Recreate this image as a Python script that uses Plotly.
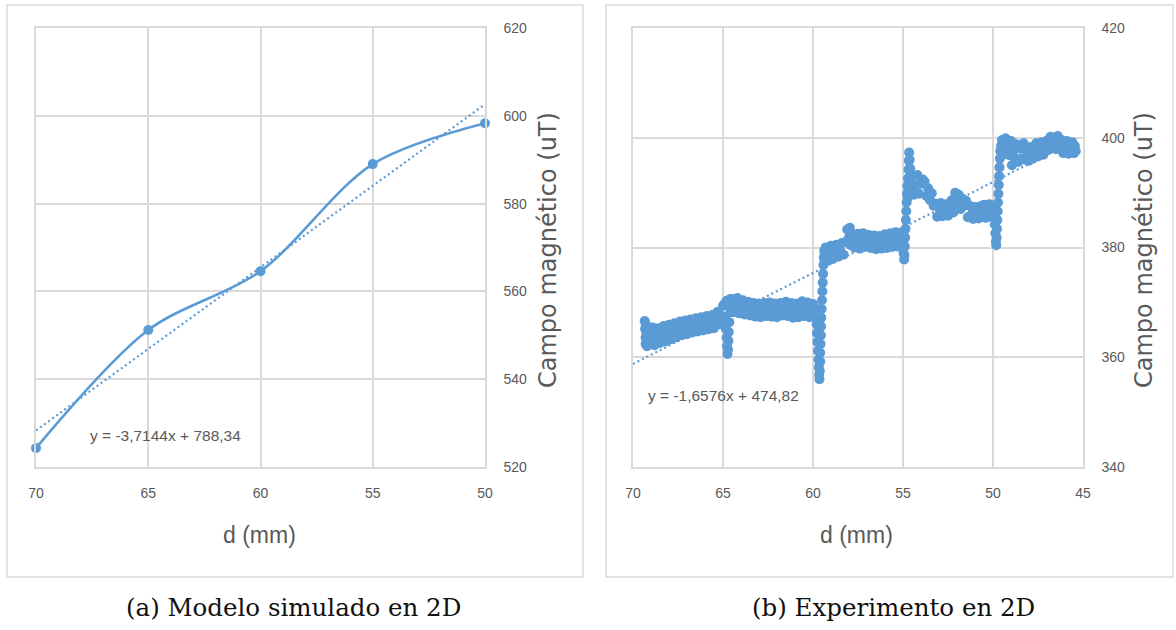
import plotly.graph_objects as go

# ---------------- data ----------------
# (a) simulated 2D model
sim_d = [70, 65, 60, 55, 50]
sim_b = [524.3, 551.2, 564.6, 589.0, 598.3]
sim_fit = (-3.7144, 788.34)          # slope, intercept of the linear fit
sim_fit_span = [70, 50]

# (b) 2D experiment (distance in mm, field in uT)
exp_d = [
    # start of the sweep
    69.35, 69.33, 69.3, 69.3, 69.28, 69.25, 69.22, 69.2, 69.15, 69.1, 69.05, 69.0,
    # first plateau
    68.9, 68.8, 68.7, 68.6, 68.5, 68.4, 68.3, 68.2, 68.1, 68.0, 67.9, 67.8, 67.7,
    67.6, 67.5, 67.4, 67.3, 67.2, 67.1, 67.0, 66.9, 66.8, 66.7, 66.6, 66.5, 66.4,
    66.3, 66.2, 66.1, 66.0, 65.9, 65.8, 65.7, 65.6, 65.5, 65.4, 65.3, 65.2, 65.1, 65.0,
    # dip near 65 mm
    64.9, 64.85, 64.8, 64.78, 64.75, 64.72, 64.7, 64.68, 64.65, 64.6,
    64.9, 64.8, 64.7, 64.6,
    # second plateau
    64.5, 64.4, 64.3, 64.2, 64.1, 64.0, 63.9, 63.8, 63.7, 63.6, 63.5, 63.4, 63.3,
    63.2, 63.1, 63.0, 62.9, 62.8, 62.7, 62.6, 62.5, 62.4, 62.3, 62.2, 62.1, 62.0,
    61.9, 61.8, 61.7, 61.6, 61.5, 61.4, 61.3, 61.2, 61.1, 61.0, 60.9, 60.8, 60.7,
    60.6, 60.5, 60.4, 60.3, 60.2, 60.1, 60.0, 59.9, 59.85,
    # dip and step near 60 mm
    59.8, 59.78, 59.75, 59.72, 59.7, 59.68, 59.66, 59.64, 59.62, 59.6, 59.6, 59.58,
    59.56, 59.55, 59.54, 59.52, 59.5, 59.48, 59.46, 59.44, 59.42, 59.4, 59.38, 59.35,
    # third plateau
    59.3, 59.2, 59.1, 59.0, 58.9, 58.8, 58.7, 58.6, 58.5, 58.4, 58.3,
    58.2, 58.1, 58.0, 57.95, 57.9, 57.8,
    57.7, 57.6, 57.5, 57.4, 57.3, 57.2, 57.1, 57.0, 56.9, 56.8, 56.7, 56.6, 56.5,
    56.4, 56.3, 56.2, 56.1, 56.0, 55.9, 55.8, 55.7, 55.6, 55.5, 55.4, 55.3, 55.2, 55.1,
    # dip, step and spike near 55 mm
    55.0, 54.97, 54.94, 54.92, 54.9,
    54.88, 54.86, 54.84, 54.82, 54.8, 54.78, 54.76, 54.74, 54.72, 54.7, 54.68,
    54.66, 54.63, 54.6, 54.58, 54.55,
    # fourth plateau
    54.5, 54.4, 54.3, 54.2, 54.1, 54.0, 53.9,
    53.8, 53.7, 53.6, 53.5, 53.4, 53.3,
    53.2, 53.1, 53.0, 52.9, 52.8, 52.7, 52.6, 52.5, 52.4,
    52.3, 52.2, 52.1, 52.0, 51.9, 51.8, 51.7, 51.6, 51.5,
    51.4, 51.3, 51.2, 51.1, 51.0, 50.9, 50.8, 50.7, 50.6, 50.5, 50.4, 50.3, 50.2,
    50.1, 50.0, 49.95,
    # dip and step near 50 mm
    49.9, 49.87, 49.84, 49.82, 49.8, 49.78,
    49.76, 49.74, 49.72, 49.7, 49.68, 49.66, 49.64, 49.62, 49.6, 49.55,
    # last plateau
    49.5, 49.4, 49.3, 49.2, 49.1, 49.0, 48.95, 48.9, 48.8, 48.7,
    48.6, 48.5, 48.4, 48.3, 48.2, 48.1, 48.0,
    47.9, 47.8, 47.7, 47.6, 47.5, 47.4, 47.3, 47.2, 47.1, 47.0,
    46.9, 46.8, 46.7, 46.6, 46.5, 46.4, 46.3,
    46.2, 46.1, 46.0, 45.9, 45.8, 45.7, 45.6, 45.5, 45.45, 45.4,
]
exp_b = [
    366.6, 365.2, 363.6, 362.4, 366.0, 364.4, 362.0, 363.2, 364.8, 362.6, 363.9, 365.1,
    365.4, 362.2, 363.8, 365.3, 362.6, 364.1, 365.7, 362.9, 364.4, 365.9, 363.3, 364.6, 366.2,
    363.6, 365.0, 366.5, 364.0, 365.3, 366.7, 364.2, 365.6, 366.9, 364.5, 365.8, 367.1, 364.7,
    366.0, 367.3, 364.9, 366.2, 367.5, 365.1, 366.4, 367.7, 365.3, 366.7, 368.3, 366.0, 367.6, 369.4,
    367.0, 365.2, 363.6, 362.0, 360.6, 361.4, 363.0, 364.6, 366.4, 368.2,
    369.8, 370.3, 369.6, 370.6,
    370.6, 368.2, 369.5, 370.8, 368.0, 369.3, 370.4, 367.8, 369.0, 370.1, 367.6, 368.8, 369.9,
    367.4, 368.6, 369.8, 367.3, 368.5, 369.9, 367.5, 368.7, 370.0, 367.4, 368.6, 369.8, 367.3,
    368.5, 369.9, 367.6, 368.8, 370.1, 367.5, 368.7, 369.9, 367.2, 368.4, 369.8, 367.3, 368.6,
    370.2, 367.5, 368.8, 370.0, 367.3, 368.5, 369.7, 367.4, 368.9,
    366.0, 364.4, 362.8, 361.2, 359.6, 358.2, 356.8, 356.0, 357.5, 359.2, 360.8, 362.4,
    364.0, 365.6, 367.2, 368.8, 370.4, 372.0, 373.6, 375.2, 376.8, 378.2, 379.4, 377.6,
    380.0, 377.6, 378.8, 380.3, 377.9, 379.2, 380.5, 378.3, 379.6, 380.8, 378.7,
    381.0, 383.3, 381.8, 383.6, 380.4, 382.4,
    380.0, 381.6, 382.5, 379.8, 381.2, 382.6, 380.1, 381.4, 382.3, 379.9, 381.0, 382.2, 379.7,
    381.0, 382.1, 379.8, 381.2, 382.4, 379.9, 381.3, 382.6, 380.1, 381.5, 382.8, 380.2, 381.6, 382.7,
    380.4, 379.0, 377.8, 378.6, 380.2,
    381.8, 383.4, 385.0, 386.6, 388.2, 389.8, 391.2, 389.0, 392.6, 394.2, 395.8,
    397.3, 396.0, 394.4, 392.8, 391.0,
    393.0, 389.6, 391.4, 393.2, 389.8, 391.6, 392.4,
    392.0, 389.4, 390.8, 388.6, 389.9, 387.6,
    388.0, 385.6, 387.2, 388.1, 385.7, 386.9, 387.9, 385.8, 387.2,
    388.6, 386.4, 390.0, 388.0, 389.6, 387.0, 388.9, 387.6, 388.5,
    385.5, 387.6, 386.0, 385.2, 387.4, 386.2, 385.3, 387.5, 385.9, 387.8, 385.4, 386.8, 387.9,
    385.6, 387.1, 385.8,
    384.2, 382.6, 381.1, 380.4, 381.8, 383.4,
    385.0, 386.6, 388.2, 389.8, 391.4, 393.0, 394.6, 396.2, 397.6, 398.6,
    399.6, 397.0, 399.9, 398.2, 396.8, 399.4, 395.0, 397.6, 396.4, 398.8,
    395.6, 398.0, 396.2, 399.0, 396.0, 397.4, 395.8,
    398.3, 396.2, 397.6, 399.0, 396.6, 397.9, 399.2, 396.9, 398.3, 399.5,
    397.8, 400.2, 398.4, 399.8, 397.9, 400.3, 398.6,
    399.6, 397.2, 398.7, 399.4, 397.1, 398.4, 399.2, 397.2, 398.5, 397.6,
]
exp_fit = (-1.6576, 474.82)
exp_fit_span = [70, 45.4]

# axis ticks
sim_xticks = [70, 65, 60, 55, 50]
sim_yticks = [520, 540, 560, 580, 600, 620]
exp_xticks = [70, 65, 60, 55, 50, 45]
exp_yticks = [340, 360, 380, 400, 420]

captions = ["(a) Modelo simulado en 2D", "(b) Experimento en 2D"]
x_title = "d (mm)"
y_title = "Campo magnético (uT)"

# ---------------- styling ----------------
W, H = 1176, 630
BLUE = "#5b9bd5"
GRID = "#d9d9d9"
TXT = "#595959"
SANS = "Liberation Sans, Arial, sans-serif"
SERIF = "DejaVu Serif, Liberation Serif, serif"


def fx(px):
    return px / W


def fy(py):
    return 1 - py / H


def fit_text(coef):
    s, c = coef
    return f"y = {s:.4f}x + {c:.2f}".replace(".", ",")


def fit_line(coef, span):
    s, c = coef
    return span, [s * v + c for v in span]


fig = go.Figure()

# (a) smoothed line with markers and dotted linear trend
tx, ty = fit_line(sim_fit, sim_fit_span)
fig.add_trace(go.Scatter(
    x=tx, y=ty, mode="lines", xaxis="x", yaxis="y",
    line=dict(color=BLUE, width=2.2, dash="2px,3px"), showlegend=False))
fig.add_trace(go.Scatter(
    x=sim_d, y=sim_b, mode="lines+markers", xaxis="x", yaxis="y", cliponaxis=False,
    line=dict(color=BLUE, width=2.6, shape="spline", smoothing=0.9),
    marker=dict(color=BLUE, size=10), showlegend=False))

# (b) measured points and dotted linear trend
tx2, ty2 = fit_line(exp_fit, exp_fit_span)
fig.add_trace(go.Scatter(
    x=tx2, y=ty2, mode="lines", xaxis="x2", yaxis="y2",
    line=dict(color=BLUE, width=2.2, dash="2px,3px"), showlegend=False))
fig.add_trace(go.Scatter(
    x=exp_d, y=exp_b, mode="markers", xaxis="x2", yaxis="y2",
    marker=dict(color=BLUE, size=10, line=dict(width=0)), showlegend=False))

tickfont = dict(family=SANS, size=14, color=TXT)
common_x = dict(showgrid=True, gridcolor=GRID, gridwidth=1.5, zeroline=False,
                showline=True, linecolor=GRID, linewidth=1.5, mirror=True,
                ticks="", tickfont=tickfont, ticklabelstandoff=12, automargin=False)
common_y = dict(showgrid=True, gridcolor=GRID, gridwidth=1.5, zeroline=False,
                showline=True, linecolor=GRID, linewidth=1.5, mirror=True,
                ticks="", side="right", tickfont=tickfont, ticklabelstandoff=14,
                automargin=False)

plot_top, plot_bot = 28, 467
left_x0, left_x1 = 36, 485
right_x0, right_x1 = 633, 1083

fig.update_layout(
    width=W, height=H, autosize=False, margin=dict(l=0, r=0, t=0, b=0, pad=0),
    paper_bgcolor="white", plot_bgcolor="white",
    xaxis=dict(domain=[fx(left_x0), fx(left_x1)], range=[70, 50], tickvals=sim_xticks,
               anchor="y", **common_x),
    yaxis=dict(domain=[fy(plot_bot), fy(plot_top)], range=[520, 620], tickvals=sim_yticks,
               anchor="x", **common_y),
    xaxis2=dict(domain=[fx(right_x0), fx(right_x1)], range=[70, 45], tickvals=exp_xticks,
                anchor="y2", **common_x),
    yaxis2=dict(domain=[fy(plot_bot), fy(plot_top)], range=[340, 420], tickvals=exp_yticks,
                anchor="x2", **common_y),
)

# panel frames
for x0, x1 in [(7, 583), (606, 1173)]:
    fig.add_shape(type="rect", xref="paper", yref="paper",
                  x0=fx(x0), x1=fx(x1), y0=fy(577), y1=fy(5),
                  line=dict(color=GRID, width=1.5), fillcolor="rgba(0,0,0,0)")

ann = []
# axis titles
for cx, cy in [(259, 535), (857, 535)]:
    ann.append(dict(text=x_title, x=fx(cx), y=fy(cy), xref="paper", yref="paper",
                    showarrow=False, xanchor="center", yanchor="middle",
                    font=dict(family=SANS, size=23, color=TXT)))
for cx, cy in [(548, 250), (1144, 250)]:
    ann.append(dict(text=y_title, x=fx(cx), y=fy(cy), xref="paper", yref="paper",
                    showarrow=False, xanchor="center", yanchor="middle", textangle=-90,
                    font=dict(family="DejaVu Sans, sans-serif", size=24, color=TXT)))
# fit equations
ann.append(dict(text=fit_text(sim_fit), x=fx(88), y=fy(435), xref="paper", yref="paper",
                showarrow=False, xanchor="left", yanchor="middle",
                font=dict(family=SANS, size=15.5, color=TXT)))
ann.append(dict(text=fit_text(exp_fit), x=fx(646), y=fy(395), xref="paper", yref="paper",
                showarrow=False, xanchor="left", yanchor="middle",
                font=dict(family=SANS, size=15.5, color=TXT)))
# captions
for cx, txt in [(293, captions[0]), (893, captions[1])]:
    ann.append(dict(text=txt, x=fx(cx), y=fy(607), xref="paper", yref="paper",
                    showarrow=False, xanchor="center", yanchor="middle",
                    font=dict(family=SERIF, size=24.5, color="#111111")))
fig.update_layout(annotations=ann)

# keep the page edge-to-edge so the figure sits at its exact pixel size
page_js = (
    "document.documentElement.style.margin='0';"
    "document.body.style.margin='0';document.body.style.padding='0';"
    "var gd=document.getElementById('{plot_id}');"
    "gd.style.width='1176px';gd.style.height='630px';"
    "Plotly.relayout(gd,{width:1176,height:630});"
)
fig.write_html("out.html", post_script=page_js)
